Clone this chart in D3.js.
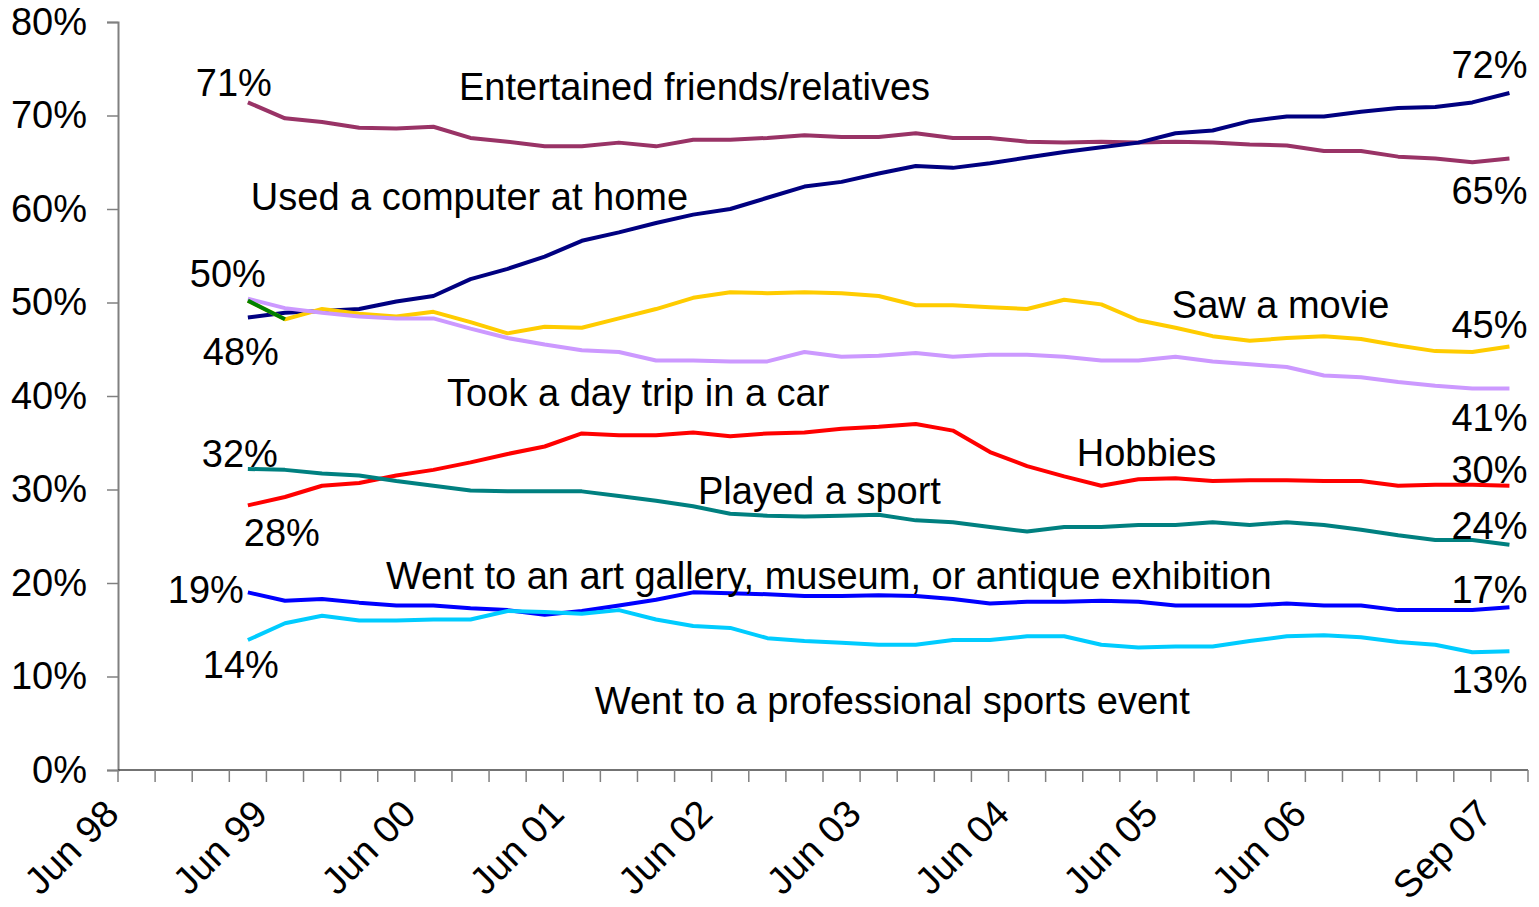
<!DOCTYPE html>
<html lang="en">
<head>
<meta charset="utf-8">
<title>Leisure activities</title>
<script src="https://d3js.org/d3.v7.min.js"></script>
<style>
  body { margin: 0; background: #fff; }
  svg text { font-family: "Liberation Sans", Arial, sans-serif; fill: #000; }
</style>
</head>
<body>
<svg id="chart" width="1539" height="907"></svg>
<script>
// quarterly categories on the x axis
var quarters = ["Jun 98","Sep 98","Dec 98","Mar 99","Jun 99","Sep 99","Dec 99","Mar 00",
  "Jun 00","Sep 00","Dec 00","Mar 01","Jun 01","Sep 01","Dec 01","Mar 02","Jun 02","Sep 02",
  "Dec 02","Mar 03","Jun 03","Sep 03","Dec 03","Mar 04","Jun 04","Sep 04","Dec 04","Mar 05",
  "Jun 05","Sep 05","Dec 05","Mar 06","Jun 06","Sep 06","Dec 06","Mar 07","Jun 07","Sep 07"];
var tickLabels = ["Jun 98","Jun 99","Jun 00","Jun 01","Jun 02","Jun 03","Jun 04","Jun 05","Jun 06","Sep 07"];
var yTicks = [0, 10, 20, 30, 40, 50, 60, 70, 80];

// survey values (%), Mar 99 .. Sep 07
var entertained = [71.4, 69.7, 69.3, 68.7, 68.6, 68.8, 67.6, 67.2, 66.7, 66.7, 67.1, 66.7, 67.4, 67.4, 67.6, 67.9, 67.7, 67.7, 68.1, 67.6, 67.6, 67.2, 67.1, 67.2, 67.1, 67.2, 67.1, 66.9, 66.8, 66.2, 66.2, 65.6, 65.4, 65.0, 65.4];
var computer = [48.4, 48.9, 49.1, 49.3, 50.1, 50.7, 52.5, 53.6, 54.9, 56.6, 57.5, 58.5, 59.4, 60.0, 61.2, 62.4, 62.9, 63.8, 64.6, 64.4, 64.9, 65.5, 66.1, 66.6, 67.1, 68.1, 68.4, 69.4, 69.9, 69.9, 70.4, 70.8, 70.9, 71.4, 72.4];
var movie = [50.2, 48.2, 49.3, 48.8, 48.5, 49.0, 47.9, 46.7, 47.4, 47.3, 48.3, 49.3, 50.5, 51.1, 51.0, 51.1, 51.0, 50.7, 49.7, 49.7, 49.5, 49.3, 50.3, 49.8, 48.1, 47.3, 46.4, 45.9, 46.2, 46.4, 46.1, 45.4, 44.8, 44.7, 45.3];
var dayTrip = [50.4, 49.4, 48.9, 48.5, 48.3, 48.3, 47.2, 46.2, 45.5, 44.9, 44.7, 43.8, 43.8, 43.7, 43.7, 44.7, 44.2, 44.3, 44.6, 44.2, 44.4, 44.4, 44.2, 43.8, 43.8, 44.2, 43.7, 43.4, 43.1, 42.2, 42.0, 41.5, 41.1, 40.8, 40.8];
var hobbies = [28.3, 29.2, 30.4, 30.7, 31.5, 32.1, 32.9, 33.8, 34.6, 36.0, 35.8, 35.8, 36.1, 35.7, 36.0, 36.1, 36.5, 36.7, 37.0, 36.3, 34.0, 32.5, 31.4, 30.4, 31.1, 31.2, 30.9, 31.0, 31.0, 30.9, 30.9, 30.4, 30.5, 30.5, 30.4];
var sport = [32.2, 32.1, 31.7, 31.5, 30.9, 30.4, 29.9, 29.8, 29.8, 29.8, 29.3, 28.8, 28.2, 27.4, 27.2, 27.1, 27.2, 27.3, 26.7, 26.5, 26.0, 25.5, 26.0, 26.0, 26.2, 26.2, 26.5, 26.2, 26.5, 26.2, 25.7, 25.1, 24.6, 24.6, 24.1];
var artGallery = [19.0, 18.1, 18.3, 17.9, 17.6, 17.6, 17.3, 17.1, 16.6, 17.0, 17.6, 18.2, 19.0, 18.9, 18.8, 18.6, 18.6, 18.7, 18.6, 18.3, 17.8, 18.0, 18.0, 18.1, 18.0, 17.6, 17.6, 17.6, 17.8, 17.6, 17.6, 17.1, 17.1, 17.1, 17.4];
var proSports = [13.9, 15.7, 16.5, 16.0, 16.0, 16.1, 16.1, 17.0, 16.9, 16.7, 17.1, 16.1, 15.4, 15.2, 14.1, 13.8, 13.6, 13.4, 13.4, 13.9, 13.9, 14.3, 14.3, 13.4, 13.1, 13.2, 13.2, 13.8, 14.3, 14.4, 14.2, 13.7, 13.4, 12.6, 12.7];

var dataQuarters = quarters.slice(3);

var series = [
  {name: "Entertained friends/relatives", values: entertained, color: "#993366"},
  {name: "Used a computer at home", values: computer, color: "#000080"},
  {name: "Saw a movie", values: movie, color: "#FFCC00"},
  {name: "Took a day trip in a car", values: dayTrip, color: "#CC99FF"},
  {name: "Hobbies", values: hobbies, color: "#FF0000"},
  {name: "Played a sport", values: sport, color: "#008080"},
  {name: "Went to an art gallery, museum, or antique exhibition", values: artGallery, color: "#0000FF"},
  {name: "Went to a professional sports event", values: proSports, color: "#00CCFF"}
];

var svg = d3.select("#chart");
var fontSize = 38;

var x = d3.scaleBand().domain(quarters).range([118, 1528]).paddingInner(0).paddingOuter(0);
var y = d3.scaleLinear().domain([0, 80]).range([770, 22]);
var cx = function(q){ return x(q) + x.bandwidth() / 2; };
// free position in category units (for text placed on the plot)
var xAt = function(i){ return x.range()[0] + i * x.step(); };

// y axis
var yAxis = svg.append("g")
  .attr("transform", "translate(118,0)")
  .call(d3.axisLeft(y).tickValues(yTicks).tickFormat(function(d){ return d + "%"; })
        .tickSize(11).tickPadding(20));
yAxis.select(".domain").attr("stroke", "#808080").attr("stroke-width", 2);
yAxis.selectAll(".tick line").attr("stroke", "#808080").attr("stroke-width", 1.5);
yAxis.selectAll("text").attr("font-size", fontSize).attr("font-family", "Liberation Sans, Arial, sans-serif").attr("fill", "#000");

// x axis
var xg = svg.append("g");
xg.append("line")
  .attr("x1", x.range()[0]).attr("x2", x.range()[1])
  .attr("y1", y(0)).attr("y2", y(0))
  .attr("stroke", "#444").attr("stroke-width", 1.5);
xg.selectAll(".xt")
  .data(quarters.concat(["end"]))
  .enter().append("line")
  .attr("x1", function(d){ return d === "end" ? x.range()[1] : x(d); })
  .attr("x2", function(d){ return d === "end" ? x.range()[1] : x(d); })
  .attr("y1", y(0)).attr("y2", y(0) + 12)
  .attr("stroke", "#808080").attr("stroke-width", 1.5);
xg.selectAll(".xl")
  .data(tickLabels)
  .enter().append("text")
  .attr("text-anchor", "end")
  .attr("font-size", fontSize)
  .attr("transform", function(d){ return "translate(" + (x(d) + 3) + "," + (y(0) + 46) + ") rotate(-45)"; })
  .text(function(d){ return d; });

// lines
var line = d3.line()
  .x(function(d, i){ return cx(dataQuarters[i]); })
  .y(function(d){ return y(d); });

svg.selectAll(".series")
  .data(series)
  .enter().append("path")
  .attr("fill", "none")
  .attr("stroke", function(d){ return d.color; })
  .attr("stroke-width", 4)
  .attr("stroke-linejoin", "round")
  .attr("d", function(d){ return line(d.values); })
  .each(function(d){
    // first segment of "Saw a movie" is drawn in green
    if (d.name === "Saw a movie") {
      svg.append("path")
        .attr("fill", "none").attr("stroke", "#008000").attr("stroke-width", 4)
        .attr("d", line(d.values.slice(0, 2)));
    }
  });

// series name labels, placed in (category index, value) units
var nameSpots = [[9.19, 71.7], [3.58, 59.9], [28.4, 48.3], [8.87, 38.9], [25.84, 32.5], [15.63, 28.5], [7.22, 19.4], [12.85, 6.0]];
svg.selectAll(".name")
  .data(series)
  .enter().append("text")
  .attr("font-size", fontSize)
  .attr("x", function(d, i){ return xAt(nameSpots[i][0]); })
  .attr("y", function(d, i){ return y(nameSpots[i][1]); })
  .text(function(d){ return d.name; });

// value labels at the first and last point
var pct = function(v){ return Math.round(v) + "%"; };
var first = dataQuarters[0], last = dataQuarters[dataQuarters.length - 1];
var startLabels = [
  {s: entertained, dx: -14, dy: -6, a: "middle"},
  {s: computer, dx: -7, dy: 48, a: "middle"},
  {s: movie, dx: -20, dy: -14, a: "middle"},
  {s: sport, dx: -8, dy: -2, a: "middle"},
  {s: hobbies, dx: 34, dy: 41, a: "middle"},
  {s: artGallery, dx: -4, dy: 11, a: "end"},
  {s: proSports, dx: -7, dy: 38, a: "middle"}
];
svg.selectAll(".sl")
  .data(startLabels)
  .enter().append("text")
  .attr("font-size", fontSize)
  .attr("text-anchor", function(d){ return d.a; })
  .attr("x", function(d){ return cx(first) + d.dx; })
  .attr("y", function(d){ return y(d.s[0]) + d.dy; })
  .text(function(d){ return pct(d.s[0]); });

var endLabels = [
  {s: computer, dy: -15},
  {s: entertained, dy: 45},
  {s: movie, dy: -8},
  {s: dayTrip, dy: 42},
  {s: hobbies, dy: -3},
  {s: sport, dy: -6},
  {s: artGallery, dy: -4},
  {s: proSports, dy: 42}
];
svg.selectAll(".el")
  .data(endLabels)
  .enter().append("text")
  .attr("font-size", fontSize)
  .attr("text-anchor", "end")
  .attr("x", cx(last) + 18)
  .attr("y", function(d){ return y(d.s[d.s.length - 1]) + d.dy; })
  .text(function(d){ return pct(d.s[d.s.length - 1]); });
</script>
</body>
</html>
